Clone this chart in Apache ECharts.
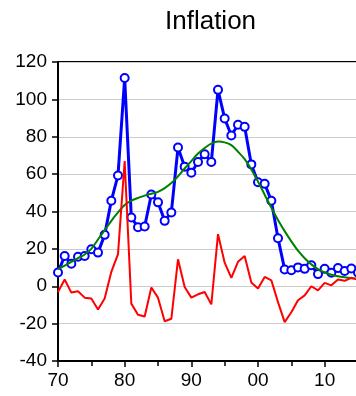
<!DOCTYPE html>
<html>
<head>
    <meta charset="utf-8">
    <title>Inflation</title>
    <script type="text/javascript" src="https://cdn.jsdelivr.net/npm/echarts@6/dist/echarts.min.js"></script>
    <style>
        html, body { margin: 0; padding: 0; background: #fff; }
    </style>
</head>
<body>
    <div id="chart" style="width: 356px; height: 396px;"></div>

    <script type="text/javascript" charset="utf-8">
        var years = [1970, 1971, 1972, 1973, 1974, 1975, 1976, 1977, 1978, 1979,
                     1980, 1981, 1982, 1983, 1984, 1985, 1986, 1987, 1988, 1989,
                     1990, 1991, 1992, 1993, 1994, 1995, 1996, 1997, 1998, 1999,
                     2000, 2001, 2002, 2003, 2004, 2005, 2006, 2007, 2008, 2009,
                     2010, 2011, 2012, 2013, 2014, 2015];

        // actual inflation
        var inflation = [7.4, 16.2, 12.0, 15.8, 16.2, 19.8, 18.0, 27.5, 45.8, 59.3,
                         111.4, 36.8, 31.6, 32.0, 49.1, 44.9, 35.0, 39.5, 74.2, 64.0,
                         60.7, 66.5, 70.6, 66.5, 105.1, 89.8, 80.7, 86.4, 85.3, 65.2,
                         55.7, 54.8, 45.8, 25.7, 9.0, 8.6, 10.1, 9.3, 11.2, 6.5,
                         9.3, 7.2, 9.7, 8.2, 9.5, 7.2];

        // smooth trend
        var trend = [9.2, 11.0, 13.1, 15.0, 17.0, 20.0, 25.0, 30.0, 35.0, 39.5,
                     43.5, 45.8, 47.3, 48.5, 49.5, 50.5, 52.5, 55.2, 58.8, 63.0,
                     67.0, 71.0, 74.0, 76.3, 77.4, 77.0, 75.5, 72.0, 68.0, 62.5,
                     56.0, 49.0, 42.0, 35.5, 29.5, 24.0, 19.0, 15.0, 11.7, 9.2,
                     7.4, 6.2, 5.4, 4.8, 4.3, 3.9];

        // cycle
        var cycle = [-3.1, 3.6, -3.4, -2.7, -6.1, -6.6, -12.4, -6.6, 7.7, 17.2,
                     67.0, -9.3, -15.3, -16.2, -0.7, -6.1, -18.7, -17.4, 14.4, -0.4,
                     -6.1, -4.3, -3.1, -9.7, 27.9, 12.6, 4.5, 13.1, 16.2, 2.0,
                     -1.2, 5.0, 3.2, -8.5, -19.2, -13.9, -7.5, -4.9, 0.0, -2.2,
                     1.8, 0.5, 3.6, 2.9, 4.5, 3.6];

        function pairs(vals) {
            var out = [];
            for (var i = 0; i < years.length; i++) {
                out.push([years[i], vals[i]]);
            }
            return out;
        }

        var font = 'Liberation Sans, Arial, sans-serif';
        var myChart = echarts.init(document.getElementById('chart'));
        myChart.setOption({
            animation: false,
            title: {
                text: 'Inflation',
                left: 160,
                top: 4,
                textStyle: { fontFamily: font, fontSize: 26, fontWeight: 'normal', color: '#000' }
            },
            grid: {
                left: 58,
                top: 62,
                right: -2,
                bottom: 35,
                containLabel: false,
                outerBoundsMode: 'none',
                show: true,
                borderColor: '#000',
                borderWidth: 2
            },
            xAxis: {
                type: 'value',
                min: 1970,
                max: 2015,
                interval: 10,
                axisLine: { show: true, onZero: false, lineStyle: { color: '#000', width: 2 } },
                axisTick: { show: true, length: 6, lineStyle: { color: '#000', width: 1.5 } },
                minorTick: { show: true, splitNumber: 2, length: 5, lineStyle: { color: '#000', width: 1.5 } },
                splitLine: { show: false },
                axisLabel: {
                    margin: 10,
                    fontFamily: font,
                    fontSize: 19,
                    color: '#000',
                    showMaxLabel: false,
                    formatter: function (v) {
                        var y = v % 100;
                        return (y < 10 ? '0' : '') + y;
                    }
                }
            },
            yAxis: {
                type: 'value',
                min: -40,
                max: 120,
                interval: 20,
                axisLine: { show: true, lineStyle: { color: '#000', width: 2 } },
                axisTick: { show: true, length: 6, lineStyle: { color: '#000', width: 1.5 } },
                splitLine: { show: true, lineStyle: { color: '#cccccc', width: 1 } },
                axisLabel: { margin: 11, fontFamily: font, fontSize: 19, color: '#000' }
            },
            series: [{
                name: 'Inflation',
                type: 'line',
                data: pairs(inflation),
                symbol: 'circle',
                symbolSize: 8,
                showAllSymbol: true,
                lineStyle: { color: '#0000ff', width: 3 },
                itemStyle: { color: '#ffffff', borderColor: '#0000ff', borderWidth: 2 },
                z: 2
            }, {
                name: 'Trend',
                type: 'line',
                data: pairs(trend),
                smooth: 0.3,
                symbol: 'none',
                lineStyle: { color: '#008000', width: 2 },
                z: 3
            }, {
                name: 'Cycle',
                type: 'line',
                data: pairs(cycle),
                symbol: 'none',
                lineStyle: { color: '#ff0000', width: 2 },
                z: 4
            }]
        });
    </script>
</body>
</html>
